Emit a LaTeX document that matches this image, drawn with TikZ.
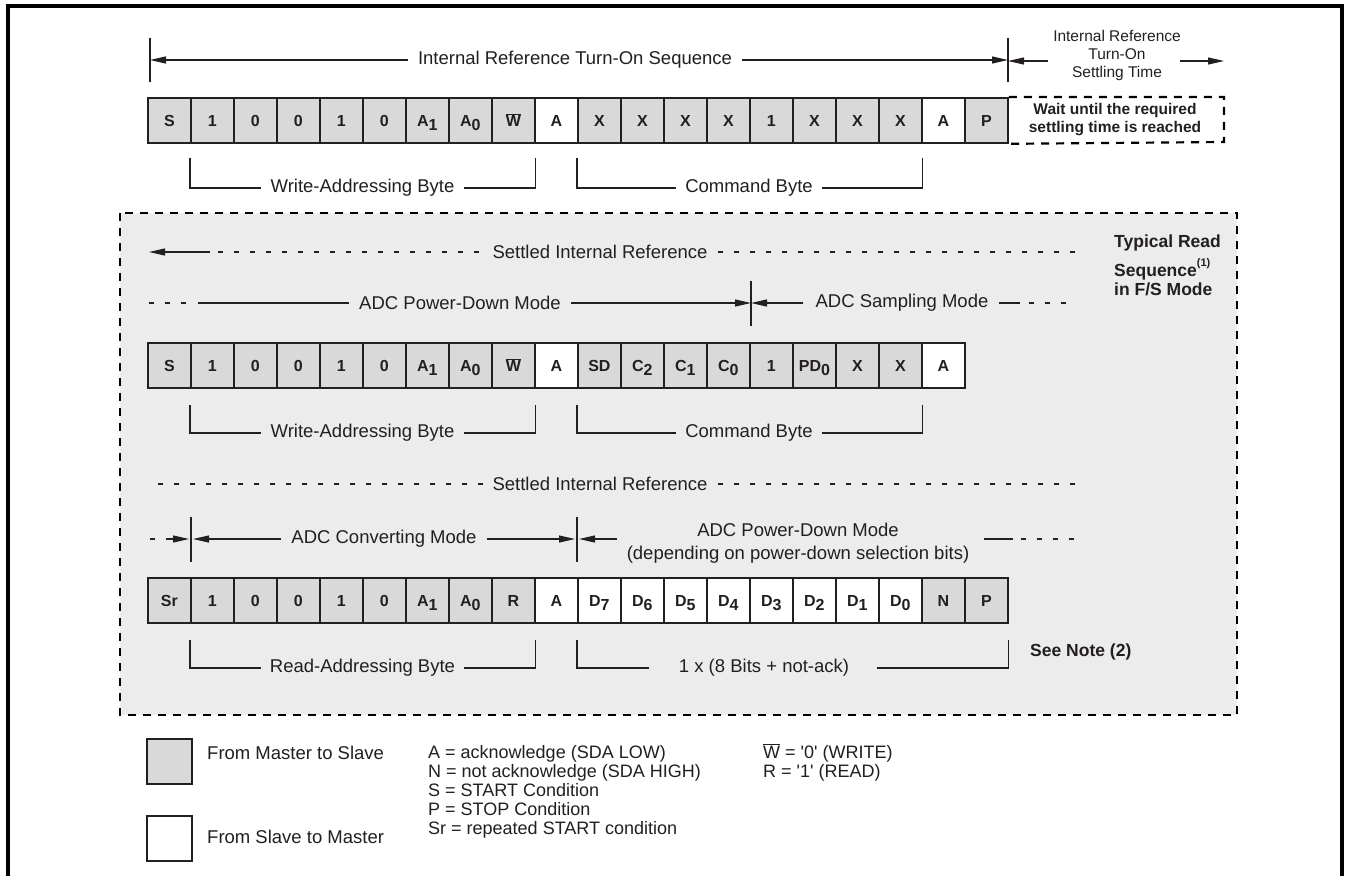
\documentclass[tikz,border=0pt]{standalone}
\usepackage{fontspec}
\setmainfont{Liberation Sans}
\usetikzlibrary{arrows.meta}
\definecolor{cg}{HTML}{D9D9D9}
\definecolor{cw}{HTML}{FFFFFF}
\definecolor{framefill}{HTML}{ECECEC}
\definecolor{ink}{HTML}{231F20}
\newcommand\sbs[1]{\raisebox{-4.5pt}{#1}}
\newcommand\ovl[1]{\ensuremath{\overline{\hbox{#1}}}}
\newcommand\fsz[2]{\fontsize{#1}{#2}\selectfont}
\begin{document}
\begin{tikzpicture}[x=1pt,y=-1pt,
  cell/.style={draw=ink, line width=1.8pt, minimum width=43pt, minimum height=45pt, inner sep=0pt,
    anchor=north west, font=\fsz{16}{16}\bfseries, text=ink, text height=11.5pt, text depth=0pt},
  lbl/.style={font=\fsz{18.5}{23}, inner sep=0pt, text=ink},
  lgt/.style={font=\fsz{18}{19}, inner sep=0pt, text=ink, anchor=base west},
  bl/.style={font=\fsz{17.5}{18}\bfseries, inner sep=0pt, text=ink, anchor=base west},
  ln/.style={line width=1.1pt, draw=ink},
  dsh/.style={ln, dash pattern=on 5pt off 11pt},
  arr/.style={-{Triangle[length=16pt,width=7pt]}},
  bdash/.style={line width=2.2pt, draw=black, dash pattern=on 8pt off 7pt},
  legbox/.style={draw=ink, line width=1.8pt, minimum width=45pt, minimum height=45pt, inner sep=0pt, anchor=north west},
]
\useasboundingbox (0,0) rectangle (1351,876);
\fill[white] (0,0) rectangle (1351,876);
% outer frame (open at the bottom)
\draw[line width=3.5pt, black] (8,876) -- (8,6) -- (1342,6) -- (1342,876);

% shaded dashed frame
\fill[framefill] (120,213) rectangle (1237,715);
\draw[bdash] (120,213) rectangle (1237,715);

% ---------------- Row 1 ----------------
\foreach \t/\c [count=\i from 0] in {S/cg,1/cg,0/cg,0/cg,1/cg,0/cg,{A\sbs{1}}/cg,{A\sbs{0}}/cg,{\ovl{W}}/cg,A/cw,X/cg,X/cg,X/cg,X/cg,1/cg,X/cg,X/cg,X/cg,A/cw,P/cg}
  \node[cell, fill=\c] (ra\i) at ({147+43*\i},97) {\t};

\node[font=\fsz{15.5}{18}\bfseries, align=center, text=ink, inner sep=0pt] (wait) at (1115,120) {Wait until the required\\settling time is reached};
\draw[bdash] (ra19.north east) -- (1224,97) -- (1224,142) -- (ra19.south east);

% top annotation
\coordinate (tk1a) at (150,38); \coordinate (tk1b) at (150,82);
\coordinate (tk2a) at (1008,38); \coordinate (tk2b) at (1008,82);
\draw[ln] (tk1a) -- (tk1b);
\draw[ln] (tk2a) -- (tk2b);
\node[lbl] (irts) at (575,60) {Internal Reference Turn-On Sequence};
\draw[ln,arr] ([xshift=-10pt]irts.west) -- (tk1a |- irts.west);
\draw[ln,arr] ([xshift=10pt]irts.east) -- (tk2a |- irts.east);

\node[font=\fsz{15.5}{18}, align=center, text=ink, inner sep=0pt] (irst) at (1117,55) {Internal Reference\\Turn-On\\Settling Time};
\coordinate (sa) at (1048,61);
\coordinate (sb) at (1180,61);
\coordinate (sc) at (1224,61);
\draw[ln,arr] (sa) -- (tk2a |- sa);
\draw[ln,arr] (sb) -- (sc);

% row 1 brackets
\node[lbl] (wab1) at (362.5,188) {Write-Addressing Byte};
\draw[ln] ([yshift=-14pt]ra1.south west) |- ([xshift=-9pt]wab1.west);
\draw[ln] ([xshift=9pt]wab1.east) -| ([yshift=-14pt]ra8.south east);
\node[lbl] (cb1) at (749,188) {Command Byte};
\draw[ln] ([yshift=-14pt]ra10.south west) |- ([xshift=-9pt]cb1.west);
\draw[ln] ([xshift=9pt]cb1.east) -| ([yshift=-14pt]ra17.south east);

% ---------------- Row 2 ----------------
\node[lbl] (sir1) at (600,252) {Settled Internal Reference};
\coordinate (s1L) at (149,252);
\coordinate (s1M) at (210,252);
\coordinate (s1R) at (1077,252);
\draw[ln,arr] (s1M) -- (s1L);
\draw[dsh] ([xshift=8pt]s1M) -- ([xshift=-8pt]sir1.west);
\draw[dsh] ([xshift=10pt]sir1.east) -- (s1R);

\coordinate (tk3a) at (751,281); \coordinate (tk3b) at (751,326);
\draw[ln] (tk3a) -- (tk3b);
\node[lbl] (apd1) at (460,303) {ADC Power-Down Mode};
\coordinate (p1a) at (149,303); \coordinate (p1b) at (192,303); \coordinate (p1c) at (198,303);
\draw[dsh] (p1a) -- (p1b);
\draw[ln] (p1c) -- ([xshift=-10pt]apd1.west);
\draw[ln,arr] ([xshift=10pt]apd1.east) -- (tk3a |- apd1.east);
\node[lbl] (asm) at (902,303) {ADC Sampling Mode};
\draw[ln,arr] ([xshift=-12pt]asm.west) -- (tk3a |- asm.west);
\coordinate (q1a) at (1020,303); \coordinate (q1b) at (1029,303); \coordinate (q1c) at (1077,303);
\draw[ln] ([xshift=10pt]asm.east) -- (q1a);
\draw[dsh] (q1b) -- (q1c);

\foreach \t/\c [count=\i from 0] in {S/cg,1/cg,0/cg,0/cg,1/cg,0/cg,{A\sbs{1}}/cg,{A\sbs{0}}/cg,{\ovl{W}}/cg,A/cw,SD/cg,{C\sbs{2}}/cg,{C\sbs{1}}/cg,{C\sbs{0}}/cg,1/cg,{PD\sbs{0}}/cg,X/cg,X/cg,A/cw}
  \node[cell, fill=\c] (rb\i) at ({147+43*\i},342) {\t};

\node[lbl] (wab2) at (362.5,433) {Write-Addressing Byte};
\draw[ln] ([yshift=-16pt]rb1.south west) |- ([xshift=-9pt]wab2.west);
\draw[ln] ([xshift=9pt]wab2.east) -| ([yshift=-16pt]rb8.south east);
\node[lbl] (cb2) at (749,433) {Command Byte};
\draw[ln] ([yshift=-16pt]rb10.south west) |- ([xshift=-9pt]cb2.west);
\draw[ln] ([xshift=9pt]cb2.east) -| ([yshift=-16pt]rb17.south east);

\node[bl] (tr1) at (1114,247) {Typical Read};
\node[bl] (tr2) at (1114,276) {Sequence\raisebox{10pt}{\fsz{11}{11}(1)}};
\node[bl] (tr3) at (1114,295) {in F/S Mode};

% ---------------- Row 3 ----------------
\node[lbl] (sir2) at (600,484) {Settled Internal Reference};
\coordinate (s2L) at (158,484); \coordinate (s2R) at (1077,484);
\draw[dsh] (s2L) -- ([xshift=-8pt]sir2.west);
\draw[dsh] ([xshift=10pt]sir2.east) -- (s2R);

\coordinate (tk4a) at (191,517); \coordinate (tk4b) at (191,562);
\coordinate (tk5a) at (577,517); \coordinate (tk5b) at (577,562);
\draw[ln] (tk4a) -- (tk4b);
\draw[ln] (tk5a) -- (tk5b);
\coordinate (c1a) at (150,539); \coordinate (c1b) at (158,539); \coordinate (c1c) at (166,539);
\draw[dsh] (c1a) -- (c1b);
\draw[ln,arr] (c1c) -- ([xshift=-2pt]tk4a |- c1c);
\node[lbl] (acm) at (384,539) {ADC Converting Mode};
\draw[ln,arr] ([xshift=-10pt]acm.west) -- ([xshift=2pt]tk4a |- acm.west);
\draw[ln,arr] ([xshift=10pt]acm.east) -- ([xshift=-2pt]tk5a |- acm.east);
\coordinate (c2a) at (617,539);
\draw[ln,arr] (c2a) -- ([xshift=2pt]tk5a |- c2a);
\node[lbl, align=center] (apd2) at (798,543) {ADC Power-Down Mode\\(depending on power-down selection bits)};
\coordinate (d1a) at (984,539); \coordinate (d1b) at (1013,539); \coordinate (d1c) at (1021,539); \coordinate (d1d) at (1077,539);
\draw[ln] (d1a) -- (d1b);
\draw[dsh] (d1c) -- (d1d);

\foreach \t/\c [count=\i from 0] in {Sr/cg,1/cg,0/cg,0/cg,1/cg,0/cg,{A\sbs{1}}/cg,{A\sbs{0}}/cg,R/cg,A/cw,{D\sbs{7}}/cw,{D\sbs{6}}/cw,{D\sbs{5}}/cw,{D\sbs{4}}/cw,{D\sbs{3}}/cw,{D\sbs{2}}/cw,{D\sbs{1}}/cw,{D\sbs{0}}/cw,N/cg,P/cg}
  \node[cell, fill=\c] (rc\i) at ({147+43*\i},577) {\t};

\node[lbl] (rab) at (362.5,668) {Read-Addressing Byte};
\draw[ln] ([yshift=-16pt]rc1.south west) |- ([xshift=-9pt]rab.west);
\draw[ln] ([xshift=9pt]rab.east) -| ([yshift=-16pt]rc8.south east);
\node[lbl] (onex) at (764,668) {1 x (8 Bits + not-ack)};
\draw[ln] ([yshift=-16pt]rc10.south west) |- ([xshift=-30pt]onex.west);
\draw[ln] ([xshift=28pt]onex.east) -| ([yshift=-16pt]rc19.south east);
\node[bl] (note) at (1030,656) {See Note (2)};

% ---------------- Legend ----------------
\node[legbox, fill=cg] (lg1) at (146,738) {};
\node[legbox, fill=white] (lg2) at (146,815) {};
\node[lgt, font=\fsz{18.5}{19}] (lt1) at (207,759) {From Master to Slave};
\node[lgt, font=\fsz{18.5}{19}] (lt2) at (207,843) {From Slave to Master};
\node[lgt] (k1) at (428,758) {A = acknowledge (SDA LOW)};
\node[lgt] (k2) at (428,777) {N = not acknowledge (SDA HIGH)};
\node[lgt] (k3) at (428,796) {S = START Condition};
\node[lgt] (k4) at (428,815) {P = STOP Condition};
\node[lgt] (k5) at (428,834) {Sr = repeated START condition};
\node[lgt] (k6) at (763,758) {\ovl{W} = \textquotesingle0\textquotesingle\ (WRITE)};
\node[lgt] (k7) at (763,777) {R = \textquotesingle1\textquotesingle\ (READ)};
\end{tikzpicture}
\end{document}
